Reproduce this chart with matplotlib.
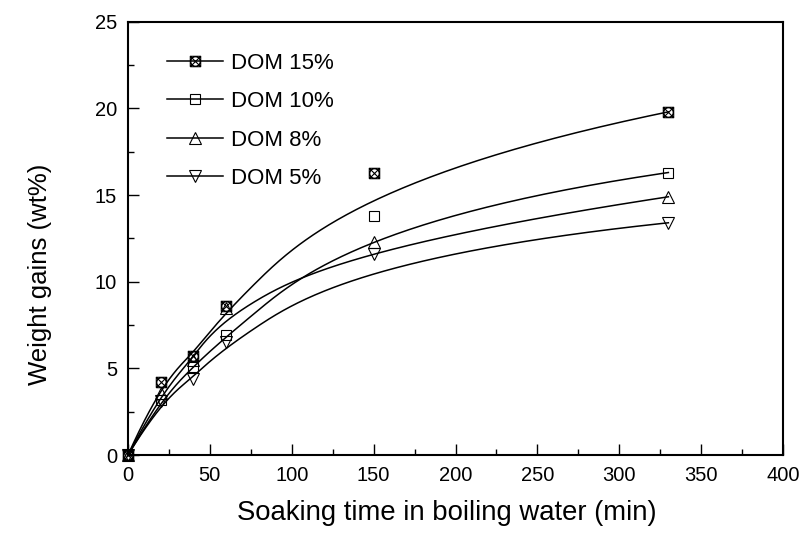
import numpy as np
import matplotlib
matplotlib.use('Agg')
import matplotlib.pyplot as plt
from matplotlib.path import Path
from matplotlib.lines import Line2D

plt.rcParams['font.family'] = ['Liberation Sans', 'DejaVu Sans']

# soaking time (min)
time = [0, 20, 40, 60, 150, 330]
# weight gains (wt%)
dom15 = [0, 4.2, 5.7, 8.6, 16.3, 19.8]
dom10 = [0, 3.2, 5.1, 6.9, 13.8, 16.3]
dom8 = [0, 3.6, 5.5, 8.5, 12.3, 14.9]
dom5 = [0, 3.1, 4.4, 6.5, 11.6, 13.4]
labels = ['DOM 15%', 'DOM 10%', 'DOM 8%', 'DOM 5%']


def basis(i, k, t, knots):
    if k == 0:
        return ((knots[i] <= t) & (t < knots[i + 1])).astype(float)
    out = np.zeros_like(t)
    d1 = knots[i + k] - knots[i]
    if d1 > 0:
        out += (t - knots[i]) / d1 * basis(i, k - 1, t, knots)
    d2 = knots[i + k + 1] - knots[i + 1]
    if d2 > 0:
        out += (knots[i + k + 1] - t) / d2 * basis(i + 1, k - 1, t, knots)
    return out


def bspline(x, y, k=3, n=400):
    # B-spline connection using the data points as control points
    x = np.asarray(x, float)
    y = np.asarray(y, float)
    m = len(x)
    knots = np.r_[[0.0] * k, np.linspace(0, 1, m - k + 1), [1.0] * k]
    t = np.linspace(0, 1 - 1e-9, n)
    B = np.array([basis(i, k, t, knots) for i in range(m)])
    return B.T @ x, B.T @ y


# crossed-box marker
sq = [(-1, -1), (1, -1), (1, 1), (-1, 1), (-1, -1)]
xs = [(-1, -1), (1, 1), (-1, 1), (1, -1)]
circ = Path.unit_circle()
box = Path(sq, [Path.MOVETO] + [Path.LINETO] * 4)
cross = Path(xs, [Path.MOVETO, Path.LINETO, Path.MOVETO, Path.LINETO])
boxx = Path.make_compound_path(box, cross, Path(circ.vertices * 0.9, circ.codes))

markers = [boxx, 's', '^', 'v']
sizes = [7.5, 7.5, 8.5, 8.5]

fig = plt.figure(figsize=(8.03, 5.34), dpi=100)
ax = fig.add_axes([0.1594, 0.1479, 0.8157, 0.8114])

handles = []
for y, m, ms, lab in zip([dom15, dom10, dom8, dom5], markers, sizes, labels):
    cx, cy = bspline(time, y)
    ax.plot(cx, cy, color='black', lw=1.1)
    ax.plot(time, y, ls='none', marker=m, ms=ms, mfc='none', mec='black',
            mew=0.8, clip_on=False, zorder=3)
    handles.append(Line2D([], [], color='black', lw=1.1, marker=m, ms=ms,
                          mfc='none', mec='black', mew=0.8))

ax.set_xlim(0, 400)
ax.set_ylim(0, 25)
ax.set_xticks(np.arange(0, 401, 50))
ax.set_xticks(np.arange(0, 401, 25), minor=True)
ax.set_yticks(np.arange(0, 26, 5))
ax.set_yticks(np.arange(0, 26, 2.5), minor=True)
ax.tick_params(which='both', direction='in', width=1.0, labelsize=14.5,
               top=False, right=False, pad=8)
ax.tick_params(which='major', length=8)
ax.tick_params(which='minor', length=4.5)
for s in ax.spines.values():
    s.set_linewidth(1.5)

ax.set_xlabel('Soaking time in boiling water (min)', fontsize=19.8)
ax.xaxis.set_label_coords(0.487, -0.104)
ax.set_ylabel('Weight gains (wt%)', fontsize=18.5)
ax.yaxis.set_label_coords(-0.116, 0.418)

ax.legend(handles=handles, labels=labels, loc='upper left',
          bbox_to_anchor=(0.06, 0.928), frameon=False, fontsize=16,
          handlelength=2.5, handletextpad=0.35, labelspacing=0.78,
          borderpad=0, borderaxespad=0)

fig.savefig('out.png', dpi=100)
